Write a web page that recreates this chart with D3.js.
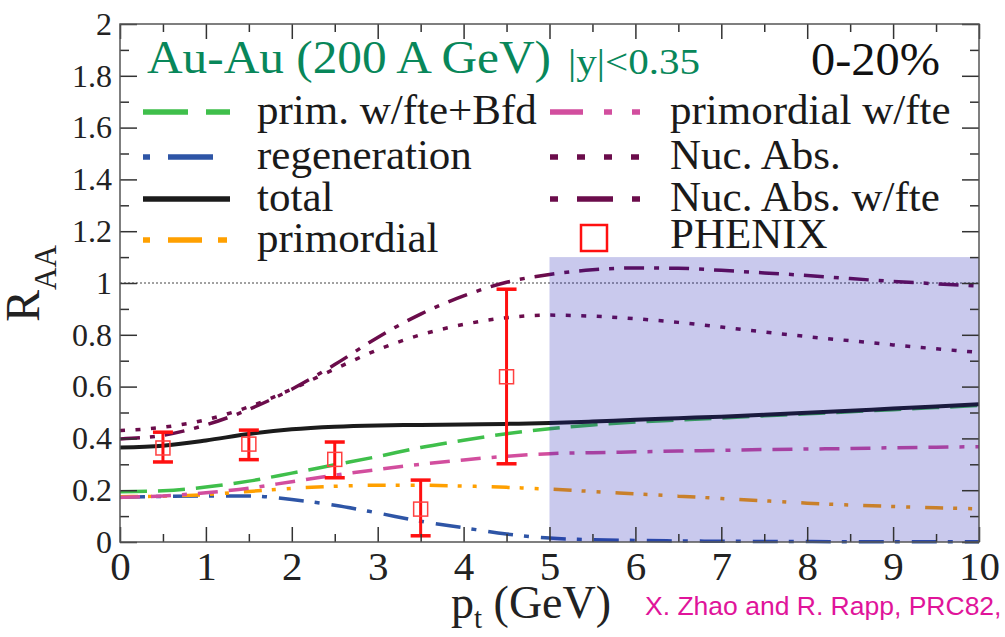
<!DOCTYPE html>
<html>
<head>
<meta charset="utf-8">
<script src="https://d3js.org/d3.v7.min.js"></script>
<style>
  html, body { margin: 0; padding: 0; background: #fff; }
  svg { display: block; }
  text { font-family: "Liberation Serif", "Times New Roman", serif; }
</style>
</head>
<body>
<svg id="chart" width="1005" height="637"></svg>
<script>
// ---- data: J/psi R_AA vs p_t, Au-Au 200 A GeV, 0-20% ----
const pt = [0, 0.5, 1, 1.5, 2, 2.5, 3, 3.5, 4, 4.5, 5, 5.5, 6, 6.5, 7, 7.5, 8, 8.5, 9, 9.5, 10];

const primFteBfd   = [0.194, 0.198, 0.212, 0.235, 0.266, 0.298, 0.330, 0.365, 0.393, 0.418, 0.437, 0.452, 0.463, 0.471, 0.479, 0.487, 0.495, 0.503, 0.511, 0.519, 0.527];
const regeneration = [0.173, 0.176, 0.178, 0.178, 0.164, 0.142, 0.112, 0.080, 0.055, 0.031, 0.015, 0.009, 0.006, 0.004, 0.003, 0.002, 0.002, 0.001, 0.001, 0.001, 0.001];
const total        = [0.365, 0.372, 0.392, 0.417, 0.435, 0.445, 0.450, 0.452, 0.454, 0.456, 0.459, 0.465, 0.472, 0.478, 0.484, 0.491, 0.499, 0.507, 0.515, 0.523, 0.532];
const primordial   = [0.175, 0.177, 0.183, 0.195, 0.207, 0.215, 0.219, 0.219, 0.216, 0.211, 0.204, 0.195, 0.186, 0.177, 0.168, 0.159, 0.150, 0.143, 0.137, 0.132, 0.128];
const primFte      = [0.172, 0.178, 0.190, 0.208, 0.233, 0.258, 0.280, 0.300, 0.317, 0.331, 0.341, 0.345, 0.348, 0.351, 0.354, 0.357, 0.359, 0.361, 0.364, 0.366, 0.368];
const nucAbs       = [0.430, 0.443, 0.472, 0.522, 0.590, 0.668, 0.742, 0.800, 0.840, 0.866, 0.876, 0.872, 0.862, 0.848, 0.830, 0.811, 0.793, 0.777, 0.761, 0.746, 0.732];
const nucAbsFte    = [0.398, 0.412, 0.452, 0.512, 0.590, 0.685, 0.790, 0.880, 0.950, 1.003, 1.033, 1.051, 1.058, 1.057, 1.049, 1.039, 1.029, 1.017, 1.006, 0.997, 0.988];

// PHENIX measurement
const phenixPt   = [0.5, 1.5, 2.5, 3.5, 4.5];
const phenixRaa  = [0.363, 0.378, 0.319, 0.127, 0.638];
const phenixHigh = [0.424, 0.432, 0.386, 0.239, 0.976];
const phenixLow  = [0.309, 0.318, 0.248, 0.024, 0.302];

// high-p_t band
const bandPt  = [5, 10];
const bandRaa = [0, 1.1];

// axes
const xMajor = [0, 1, 2, 3, 4, 5, 6, 7, 8, 9, 10];
const xMinor = [0.5, 1.5, 2.5, 3.5, 4.5, 5.5, 6.5, 7.5, 8.5, 9.5];
const xTickLabels = ["0", "1", "2", "3", "4", "5", "6", "7", "8", "9", "10"];
const yMajor = [0, 0.2, 0.4, 0.6, 0.8, 1, 1.2, 1.4, 1.6, 1.8, 2];
const yMinor = [0.1, 0.3, 0.5, 0.7, 0.9, 1.1, 1.3, 1.5, 1.7, 1.9];
const yTickLabels = ["0", "0.2", "0.4", "0.6", "0.8", "1", "1.2", "1.4", "1.6", "1.8", "2"];

// ---- styles ----
const curves = [
  { key: "primFteBfd",   values: primFteBfd,   label: "prim. w/fte+Bfd",  color: "#3fbf4b", width: 3.5, dash: "27 11",               legDash: "45 18",               col: 0, row: 0 },
  { key: "regeneration", values: regeneration, label: "regeneration",     color: "#2e55a6", width: 3.5, dash: "25 11 5 12",          legDash: "7 18 45 20",          col: 0, row: 1 },
  { key: "total",        values: total,        label: "total",            color: "#1b1b1b", width: 4,   dash: null,                  legDash: null,                  col: 0, row: 2 },
  { key: "primordial",   values: primordial,   label: "primordial",       color: "#ffa000", width: 3.5, dash: "18 10 4 11 4 15",     legDash: "7 18 34 16 9 20",     col: 0, row: 3 },
  { key: "primFte",      values: primFte,      label: "primordial w/fte", color: "#d24e9e", width: 3.5, dash: "20 11 20 11 5 11",    legDash: "33 21 8 20 8 20",     col: 1, row: 0 },
  { key: "nucAbs",       values: nucAbs,       label: "Nuc. Abs.",        color: "#6b0c4b", width: 3.5, dash: "5 10.5",              legDash: "8 19",                col: 1, row: 1 },
  { key: "nucAbsFte",    values: nucAbsFte,    label: "Nuc. Abs. w/fte",  color: "#6b0c4b", width: 3.5, dash: "20 10 5 10",          legDash: "8 19 36 19 8 20",     col: 1, row: 2 }
];
const red = "#ff1010";
const serif = "'Liberation Serif', 'Times New Roman', serif";

const svg = d3.select("#chart");
const x = d3.scaleLinear().domain([0, 10]).range([120, 979]);
const y = d3.scaleLinear().domain([0, 2]).range([542, 24]);

// reference line at R_AA = 1
svg.append("line")
  .attr("x1", x(0)).attr("x2", x(10))
  .attr("y1", y(1)).attr("y2", y(1))
  .attr("stroke", "#444").attr("stroke-width", 1).attr("stroke-dasharray", "2 2");

// theory curves
const line = d3.line()
  .x((d, i) => x(pt[i]))
  .y(d => y(d))
  .curve(d3.curveMonotoneX);

curves.forEach(c => {
  svg.append("path")
    .datum(c.values)
    .attr("d", line)
    .attr("fill", "none")
    .attr("stroke", c.color)
    .attr("stroke-width", c.width)
    .attr("stroke-dasharray", c.dash)
    .attr("stroke-linecap", "butt");
});

// translucent band over the high-p_t region
svg.append("rect")
  .attr("x", x(bandPt[0])).attr("width", x(bandPt[1]) - x(bandPt[0]))
  .attr("y", y(bandRaa[1])).attr("height", y(bandRaa[0]) - y(bandRaa[1]))
  .attr("fill", "rgb(25,25,180)").attr("fill-opacity", 0.235);

// PHENIX points with error bars
const pts = svg.append("g");
phenixPt.forEach((p, i) => {
  const cx = x(p);
  pts.append("line").attr("x1", cx).attr("x2", cx)
    .attr("y1", y(phenixHigh[i])).attr("y2", y(phenixLow[i]))
    .attr("stroke", red).attr("stroke-width", 3);
  [phenixHigh[i], phenixLow[i]].forEach(v => {
    pts.append("line").attr("x1", cx - 10).attr("x2", cx + 10)
      .attr("y1", y(v)).attr("y2", y(v))
      .attr("stroke", red).attr("stroke-width", 3.5);
  });
  pts.append("rect")
    .attr("x", cx - 7).attr("y", y(phenixRaa[i]) - 7)
    .attr("width", 14).attr("height", 14)
    .attr("fill", "none").attr("stroke", "#ff4040").attr("stroke-width", 1.5);
});

// axes with inward ticks on all four sides
function addAxis(gen, tx, ty) {
  const g = svg.append("g").attr("transform", `translate(${tx},${ty})`).call(gen);
  g.attr("font-family", null);
  g.select(".domain").remove();
  g.selectAll(".tick line").attr("stroke", "#333").attr("stroke-width", 1.5);
  g.selectAll(".tick text").attr("fill", "#222").style("font-family", serif);
  return g;
}
const gx = addAxis(d3.axisBottom(x).tickValues(xMajor).tickSize(-15).tickPadding(9)
  .tickFormat((d, i) => xTickLabels[i]), 0, y(0));
gx.selectAll(".tick text").style("font-size", "41px");
addAxis(d3.axisBottom(x).tickValues(xMinor).tickSize(-8).tickFormat(""), 0, y(0));
addAxis(d3.axisTop(x).tickValues(xMajor).tickSize(-15).tickFormat(""), 0, y(2));
addAxis(d3.axisTop(x).tickValues(xMinor).tickSize(-8).tickFormat(""), 0, y(2));

const gy = addAxis(d3.axisLeft(y).tickValues(yMajor).tickSize(-17).tickPadding(8)
  .tickFormat((d, i) => yTickLabels[i]), x(0), 0);
gy.selectAll(".tick text").style("font-size", "32px");
addAxis(d3.axisLeft(y).tickValues(yMinor).tickSize(-9).tickFormat(""), x(0), 0);
addAxis(d3.axisRight(y).tickValues(yMajor).tickSize(-17).tickFormat(""), x(10), 0);
addAxis(d3.axisRight(y).tickValues(yMinor).tickSize(-9).tickFormat(""), x(10), 0);

// frame
svg.append("rect")
  .attr("x", x(0)).attr("y", y(2))
  .attr("width", x(10) - x(0)).attr("height", y(0) - y(2))
  .attr("fill", "none").attr("stroke", "#555").attr("stroke-width", 1.5);

// axis titles
const yTitle = svg.append("text")
  .attr("transform", "translate(39,322) rotate(-90)")
  .attr("fill", "#222");
yTitle.append("tspan").style("font-size", "48px").text("R");
yTitle.append("tspan").style("font-size", "31px").attr("dy", 17).text("AA");

const xTitle = svg.append("text")
  .attr("x", 451).attr("y", 618)
  .attr("fill", "#222");
xTitle.append("tspan").style("font-size", "46px").text("p");
xTitle.append("tspan").style("font-size", "29px").attr("dy", 10).text("t");
xTitle.append("tspan").style("font-size", "46px").attr("dy", -10).text(" (GeV)");

// header
svg.append("text").attr("x", 147).attr("y", 73)
  .attr("fill", "#08875a").style("font-size", "46px")
  .attr("textLength", 404).attr("lengthAdjust", "spacingAndGlyphs")
  .text("Au-Au (200 A GeV)");
svg.append("text").attr("x", 568).attr("y", 74)
  .attr("fill", "#08875a").style("font-size", "36px")
  .attr("textLength", 132).attr("lengthAdjust", "spacingAndGlyphs")
  .text("|y|<0.35");
svg.append("text").attr("x", 811).attr("y", 75)
  .attr("fill", "#111").style("font-size", "46px")
  .attr("textLength", 129).attr("lengthAdjust", "spacingAndGlyphs")
  .text("0-20%");

// legend
const legCols = [{ x0: 143, x1: 230, tx: 257 }, { x0: 550, x1: 640, tx: 670 }];
const legRows = [112, 157, 199, 240];
const leg = svg.append("g");
curves.forEach(c => {
  const col = legCols[c.col], ry = legRows[c.row];
  leg.append("line")
    .attr("x1", col.x0).attr("x2", col.x1).attr("y1", ry).attr("y2", ry)
    .attr("stroke", c.color).attr("stroke-width", 5.5)
    .attr("stroke-dasharray", c.legDash);
  leg.append("text").attr("x", col.tx).attr("y", ry + 12)
    .attr("fill", "#1a1a1a").style("font-size", "43px").text(c.label);
});
leg.append("rect")
  .attr("x", 594 - 13).attr("y", legRows[3] - 2 - 13)
  .attr("width", 26).attr("height", 26)
  .attr("fill", "none").attr("stroke", red).attr("stroke-width", 2.5);
leg.append("text").attr("x", legCols[1].tx).attr("y", legRows[3] + 8)
  .attr("fill", "#1a1a1a").style("font-size", "43px").text("PHENIX");

// citation
svg.append("text").attr("x", 645).attr("y", 615)
  .attr("fill", "#e0149a")
  .style("font-family", "'Liberation Sans', Arial, sans-serif")
  .style("font-size", "26.5px")
  .text("X. Zhao and R. Rapp, PRC82,");
</script>
</body>
</html>
